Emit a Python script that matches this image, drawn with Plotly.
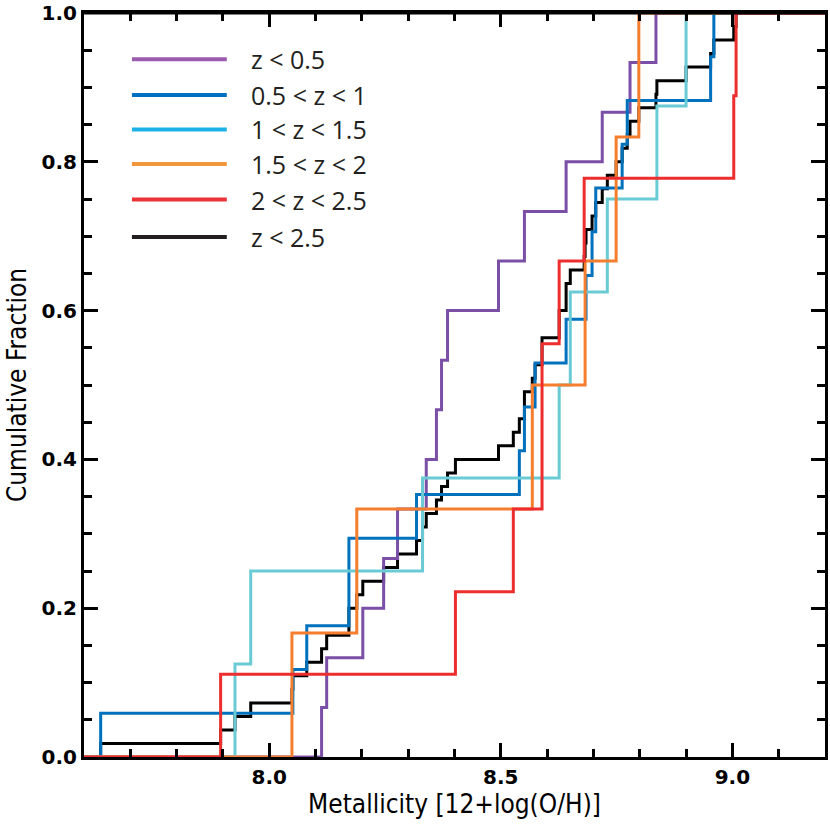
import plotly.graph_objects as go

oh_z0_05 = [8.113, 8.124, 8.202, 8.247, 8.277, 8.339, 8.361, 8.372, 8.385,
            8.495, 8.551, 8.641, 8.719, 8.779, 8.835]
oh_z05_1 = [7.636, 8.051, 8.081, 8.172, 8.172, 8.318, 8.540, 8.551, 8.574,
            8.641, 8.684, 8.697, 8.705, 8.762, 8.773, 8.953, 8.960]
oh_z1_15 = [7.926, 7.960, 8.331, 8.626, 8.650, 8.730, 8.837, 8.900]
oh_z15_2 = [8.049, 8.189, 8.568, 8.682, 8.749, 8.798]
oh_z2_25 = [7.895, 8.402, 8.527, 8.589, 8.589, 8.626, 8.680, 9.003, 9.008]
oh_all = oh_z0_05 + oh_z05_1 + oh_z1_15 + oh_z15_2 + oh_z2_25

labels = ['z < 0.5', '0.5 < z < 1', '1 < z < 1.5', '1.5 < z < 2', '2 < z < 2.5', 'z < 2.5']
line_colors = ['#7B4FA6', '#0072BD', '#6ACBD5', '#F57E2E', '#EE2E2E', '#000000']
key_colors = ['#9B5BAE', '#0070C0', '#1DB1E7', '#F0963C', '#EE3338', '#231F20']
groups = [oh_z0_05, oh_z05_1, oh_z1_15, oh_z15_2, oh_z2_25, oh_all]

x_range = [7.6, 9.2]


def cumulative(vals):
    v = sorted(vals)
    n = len(v)
    xs = [x_range[0]] + v + [x_range[1]]
    ys = [0.0] + [(i + 1) / n for i in range(n)] + [1.0]
    return xs, ys


fig = go.Figure()
# black (all) underneath, then the bins in order
for idx in [5, 0, 1, 2, 3, 4]:
    xs, ys = cumulative(groups[idx])
    fig.add_trace(go.Scatter(x=xs, y=ys, mode='lines', name=labels[idx],
                             line=dict(color=line_colors[idx], width=3, shape='hv'),
                             showlegend=False, hoverinfo='skip'))

# top frame drawn over the curves where they reach 1
fig.add_shape(type='line', xref='paper', yref='paper', x0=0, x1=1, y0=1, y1=1,
              line=dict(color='black', width=3), layer='above')

# hand made key, top left
row_y = [0.9377, 0.8899, 0.8435, 0.797, 0.7493, 0.699]
for lab, col, yy in zip(labels, key_colors, row_y):
    fig.add_shape(type='line', xref='paper', yref='paper', x0=0.0647, x1=0.1927,
                  y0=yy, y1=yy, line=dict(color=col, width=4))
    fig.add_annotation(x=0.2224, y=yy, xref='paper', yref='paper', text=lab,
                       showarrow=False, xanchor='left', yanchor='middle',
                       font=dict(family='Open Sans', size=25, color='#231F20'))

tick_font = dict(family='DejaVu Sans', size=20, color='black', weight='bold')
title_font = dict(family='Liberation Sans Narrow, DejaVu Sans Condensed, sans-serif',
                  size=26, color='black')

fig.update_xaxes(range=x_range, tick0=8.0, dtick=0.5, tickformat='.1f',
                 ticks='inside', ticklen=14, tickwidth=3, tickcolor='black',
                 showline=True, linewidth=3, linecolor='black', mirror='ticks',
                 showgrid=False, zeroline=False, tickfont=tick_font, automargin=False,
                 ticklabeloverflow='allow',
                 minor=dict(tick0=8.0, dtick=0.1, ticks='inside', ticklen=8,
                            tickwidth=3, tickcolor='black', showgrid=False),
                 title=dict(text='Metallicity [12+log(O/H)]', font=title_font, standoff=2))
fig.update_yaxes(range=[0, 1], dtick=0.2, tickformat='.1f',
                 ticks='inside', ticklen=14, tickwidth=3, tickcolor='black',
                 showline=True, linewidth=3, linecolor='black', mirror='ticks',
                 showgrid=False, zeroline=False, tickfont=tick_font, automargin=False,
                 ticklabeloverflow='allow',
                 minor=dict(dtick=0.05, ticks='inside', ticklen=8,
                            tickwidth=3, tickcolor='black', showgrid=False),
                 title=dict(text='Cumulative Fraction', font=title_font, standoff=8))

fig.update_layout(width=830, height=830,
                  margin=dict(l=84, r=5, t=13, b=73),
                  plot_bgcolor='white', paper_bgcolor='white',
                  showlegend=False)

# the page's default body margin would shift the whole figure by 8px
fig.write_html('out.html', config={'displayModeBar': False},
               post_script="document.body.style.margin='0px';")
